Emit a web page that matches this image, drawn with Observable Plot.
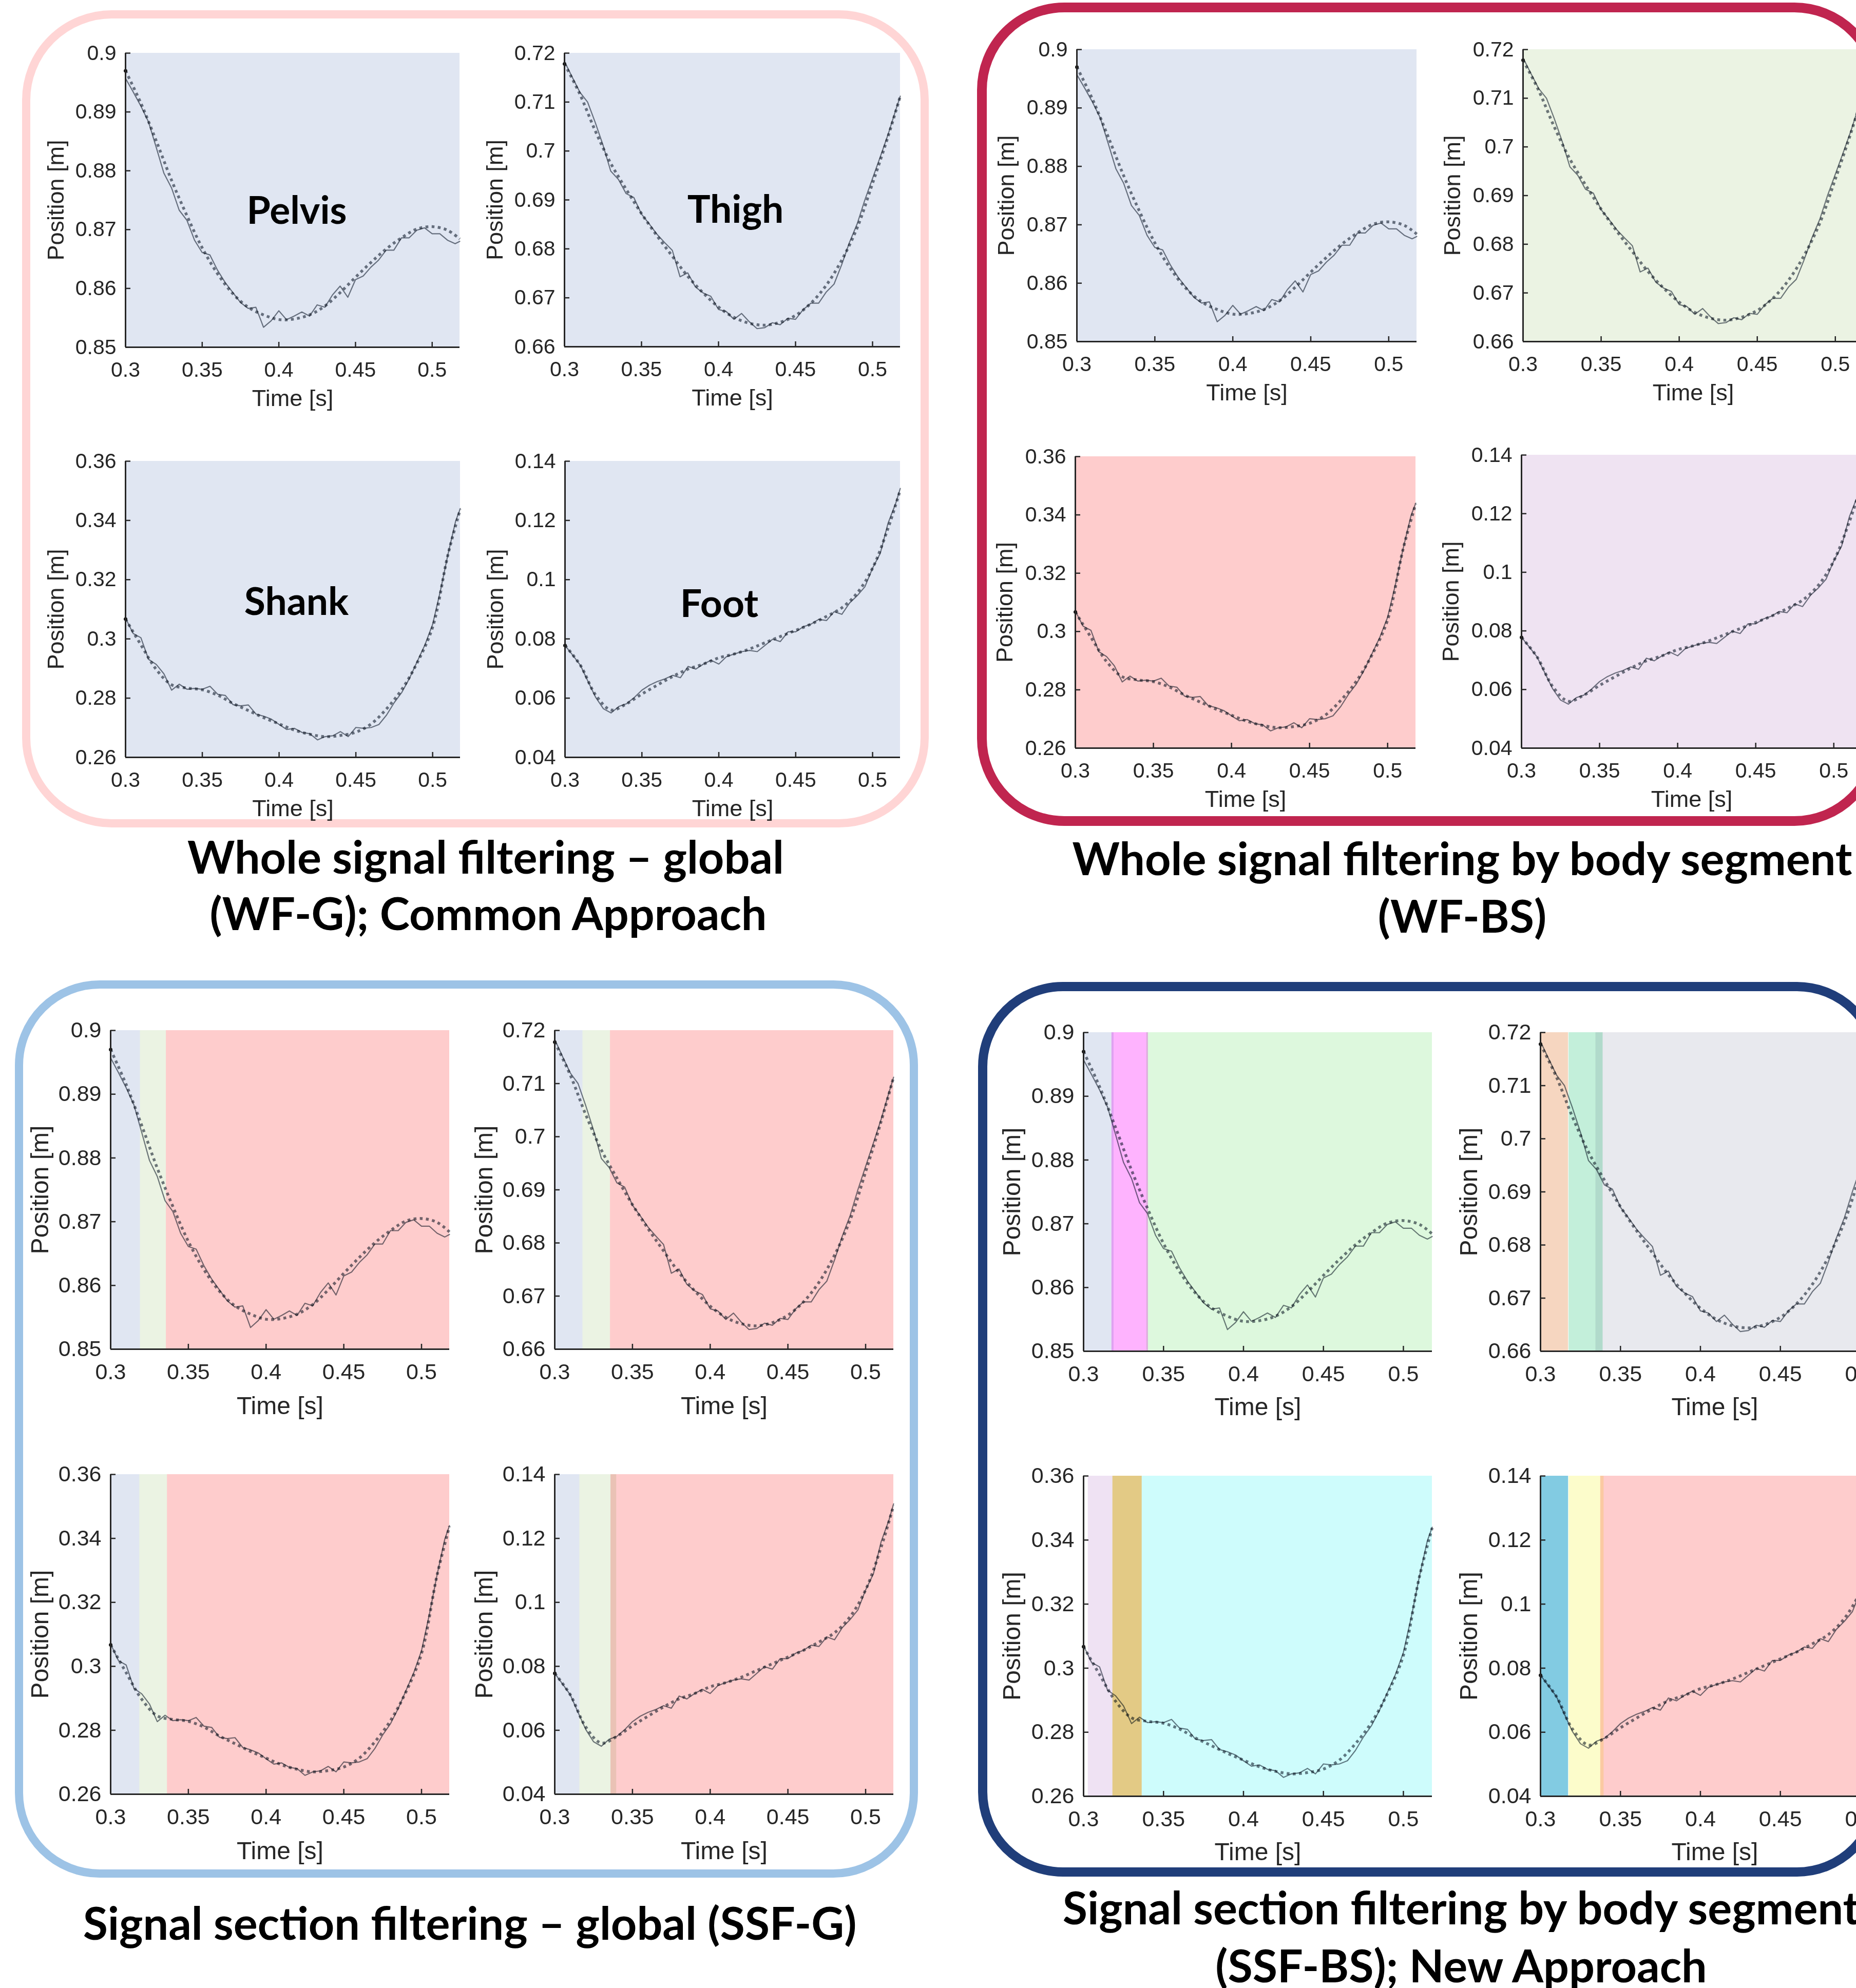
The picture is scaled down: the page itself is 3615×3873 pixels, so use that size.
<!DOCTYPE html>
<html><head><meta charset="utf-8">
<script src="https://cdn.jsdelivr.net/npm/d3@7"></script>
<script src="https://cdn.jsdelivr.net/npm/@observablehq/plot@0.6"></script>
<style>
html,body{margin:0;padding:0;background:#fff;}
body{width:3615px;height:3873px;position:relative;overflow:hidden;}
.box{position:absolute;box-sizing:border-box;border-style:solid;}
.sub{position:absolute;}
</style></head><body>
<script>
// ---------------- DATA ----------------
const time = [0.300,0.305,0.310,0.315,0.320,0.325,0.330,0.335,0.340,0.345,0.350,0.355,0.360,0.365,0.370,0.375,0.380,0.385,0.390,0.395,0.400,0.405,0.410,0.415,0.420,0.425,0.430,0.435,0.440,0.445,0.450,0.455,0.460,0.465,0.470,0.475,0.480,0.485,0.490,0.495,0.500,0.505,0.510,0.515,0.518];
const timeF = [0.30,0.31,0.32,0.33,0.34,0.35,0.36,0.37,0.38,0.39,0.40,0.41,0.42,0.43,0.44,0.45,0.46,0.47,0.48,0.49,0.50,0.51,0.518];

const pelvisRaw = [.8957,.8934,.8910,.8883,.8840,.8796,.8771,.8733,.8716,.8682,.8661,.8657,.8631,.8610,.8593,.8576,.8566,.8568,.8534,.8545,.8562,.8547,.8553,.8560,.8553,.8572,.8568,.8589,.8604,.8585,.8615,.8621,.8636,.8648,.8665,.8665,.8686,.8686,.8699,.8703,.8693,.8693,.8682,.8676,.8680];
const pelvisFilt = [.8970,.8915,.8851,.8784,.8724,.8669,.8625,.8591,.8568,.8555,.8547,.8548,.8555,.8570,.8593,.8619,.8644,.8667,.8686,.8701,.8705,.8699,.8684];
const thighRaw = [.7183,.7151,.7120,.7100,.7058,.7012,.6959,.6942,.6913,.6905,.6871,.6851,.6830,.6813,.6797,.6743,.6751,.6722,.6710,.6703,.6676,.6672,.6656,.6668,.6651,.6637,.6639,.6649,.6645,.6658,.6656,.6676,.6689,.6689,.6712,.6728,.6768,.6813,.6851,.6900,.6944,.6988,.7033,.7083,.7112];
const thighFilt = [.7178,.7116,.7041,.6975,.6922,.6872,.6827,.6785,.6744,.6710,.6681,.6660,.6648,.6644,.6650,.6664,.6689,.6726,.6777,.6843,.6934,.7029,.7112];
const shankRaw = [.3070,.3018,.3004,.2931,.2914,.2882,.2827,.2847,.2830,.2833,.2830,.2840,.2813,.2809,.2778,.2774,.2777,.2746,.2739,.2729,.2711,.2694,.2698,.2684,.2680,.2659,.2670,.2673,.2687,.2670,.2701,.2698,.2701,.2711,.2743,.2785,.2820,.2868,.2924,.2980,.3049,.3161,.3286,.3398,.3440];
const shankFilt = [.3067,.2980,.2897,.2845,.2834,.2828,.2810,.2782,.2758,.2734,.2713,.2692,.2678,.2670,.2674,.2685,.2713,.2764,.2830,.2920,.3040,.3285,.3438];
const footRaw = [.0778,.0745,.0711,.0656,.0602,.0564,.0550,.0572,.0581,.0602,.0627,.0644,.0656,.0665,.0677,.0669,.0707,.0698,.0715,.0728,.0715,.0740,.0749,.0757,.0761,.0757,.0778,.0799,.0791,.0824,.0824,.0841,.0850,.0866,.0862,.0892,.0883,.0921,.0946,.0976,.1039,.1089,.1190,.1257,.1308];
const footFilt = [.0778,.0711,.0610,.0560,.0581,.0614,.0644,.0673,.0698,.0715,.0736,.0749,.0766,.0787,.0808,.0829,.0850,.0876,.0905,.0955,.1039,.1173,.1303];

const segmentNames = ["Pelvis","Thigh","Shank","Foot"];
const xTicks = [0.3,0.35,0.4,0.45,0.5];
const xDomain = [0.3,0.518];
const pelvisTicks = [0.85,0.86,0.87,0.88,0.89,0.9];
const thighTicks = [0.66,0.67,0.68,0.69,0.7,0.71,0.72];
const shankTicks = [0.26,0.28,0.3,0.32,0.34,0.36];
const footTicks = [0.04,0.06,0.08,0.1,0.12,0.14];
const xLabel = "Time [s]";
const yLabel = "Position [m]";

const titleWFG = ["Whole signal filtering \u2013 global","(WF-G); Common Approach"];
const titleWFBS = ["Whole signal filtering by body segment","(WF-BS)"];
const titleSSFG = ["Signal section filtering \u2013 global (SSF-G)"];
const titleSSFBS = ["Signal section filtering by body segment","(SSF-BS); New Approach"];

// filtering sections (time ranges, s)
const wholeSignal = [[0.300,0.518]];
const ssfgPelvis = [[0.300,0.319],[0.319,0.3357],[0.3357,0.518]];
const ssfgThigh  = [[0.300,0.318],[0.318,0.3357],[0.3357,0.518]];
const ssfgShank  = [[0.300,0.3186],[0.3186,0.3364],[0.3364,0.518]];
const ssfgFoot   = [[0.300,0.316],[0.316,0.3397],[0.336,0.518]];
const ssfbsPelvis = [[0.300,0.3189],[0.3176,0.3404],[0.3394,0.518]];
const ssfbsThigh  = [[0.300,0.3174],[0.3177,0.339],[0.3345,0.518]];
const ssfbsShank  = [[0.3028,0.3182],[0.3182,0.3365],[0.3365,0.518]];
const ssfbsFoot   = [[0.300,0.3174],[0.3177,0.3396],[0.3375,0.518]];

// ---------------- STYLES ----------------
const wfgColors = [["#e0e6f2"],["#e0e6f2"],["#e0e6f2"],["#e0e6f2"]];
const wfbsColors = [["#e0e6f2"],["#ebf3e3"],["#fecccc"],["#efe3f2"]];
const ssfgColors = ["#e0e6f2","#ebf3e3","#fecccc"];
const ssfbsColors = [["#e0e6f2","#feb3fe","#ddf8dd"],["#f6d6c0","#c3efda","#e8e9ee"],["#efe2f3","#e3ca85","#cefcfc"],["#82cbe2","#fcfccb","#fecccc"]];
const LINE = "#737a84";
const AX = "#262626";

const segs = [
  {raw: pelvisRaw, filt: pelvisFilt, ticks: pelvisTicks},
  {raw: thighRaw, filt: thighFilt, ticks: thighTicks},
  {raw: shankRaw, filt: shankFilt, ticks: shankTicks},
  {raw: footRaw, filt: footFilt, ticks: footTicks}
];

// layout: frames [left, right, top, bottom] in page px
const quadrants = [
  {frames: [[244,895,103,676],[1099,1753,103,675],[244,896,898,1475],[1100,1753,898,1475]],
   sections: [wholeSignal,wholeSignal,wholeSignal,wholeSignal], colors: wfgColors,
   tickFont: 41, labelFont: 45, xLabelDy: 100, yLabelDx: -135, names: true},
  {frames: [[2097,2759,96,665],[2966,3629,96,665],[2094,2757,889,1457],[2963,3626,886,1457]],
   sections: [wholeSignal,wholeSignal,wholeSignal,wholeSignal], colors: wfbsColors,
   tickFont: 41, labelFont: 45, xLabelDy: 100, yLabelDx: -137, names: false},
  {frames: [[215,875,2007,2628],[1080,1740,2007,2628],[215,875,2872,3495],[1080,1740,2872,3495]],
   sections: [ssfgPelvis,ssfgThigh,ssfgShank,ssfgFoot], colors: [ssfgColors,ssfgColors,ssfgColors,ssfgColors],
   tickFont: 43, labelFont: 48, xLabelDy: 111, yLabelDx: -137, names: false},
  {frames: [[2110,2789,2011,2632],[3000,3679,2011,2632],[2110,2789,2875,3499],[3000,3679,2875,3499]],
   sections: [ssfbsPelvis,ssfbsThigh,ssfbsShank,ssfbsFoot], colors: ssfbsColors,
   tickFont: 43, labelFont: 48, xLabelDy: 109, yLabelDx: -139, names: false}
];
const nameOffsets = [[8,22],[6,20],[7,-13],[-26,-9]];

// rounded boxes
const boxes = [
  {l:43, t:20, r:1809, b:1612, w:16, c:"#ffd5d5", rad:175},
  {l:1903, t:5, r:3665, b:1609, w:19, c:"#c0254f", rad:170},
  {l:29, t:1910, r:1788, b:3658, w:16, c:"#9dc3e6", rad:165},
  {l:1905, t:1913, r:3665, b:3656, w:18, c:"#203e7a", rad:165}
];
for (const bx of boxes) {
  const d = document.createElement("div");
  d.className = "box";
  Object.assign(d.style, {left: bx.l+"px", top: bx.t+"px", width: (bx.r-bx.l)+"px", height: (bx.b-bx.t)+"px",
    borderWidth: bx.w+"px", borderColor: bx.c, borderRadius: bx.rad+"px"});
  document.body.appendChild(d);
}

function drawSub(q, si) {
  const [L, R, T, B] = q.frames[si];
  const seg = segs[si];
  const mL = 230, mR = 40, mT = 40, mB = 180;
  const W = R - L, H = B - T;
  const yDom = [seg.ticks[0], seg.ticks[seg.ticks.length-1]];
  const bandData = q.sections[si].map((s, i) => ({x1: s[0], x2: s[1], fill: q.colors[si][i]}));
  const tlx = (xDomain[1]-xDomain[0]) * 10 / W;
  const tly = (yDom[1]-yDom[0]) * 10 / H;
  const raw = time.map((t, i) => ({t, v: seg.raw[i]}));
  const filt = timeF.map((t, i) => ({t, v: seg.filt[i]}));
  const marks = [
    Plot.rect(bandData, {x1: "x1", x2: "x2", y1: yDom[0], y2: yDom[1], fill: "fill", mixBlendMode: "multiply"}),
    Plot.line(raw, {x: "t", y: "v", stroke: LINE, strokeWidth: 2.2, mixBlendMode: "multiply"}),
    Plot.line(filt, {x: "t", y: "v", stroke: LINE, strokeWidth: 5.5, strokeDasharray: "5.5,6.5", strokeLinecap: "butt", curve: "catmull-rom", mixBlendMode: "multiply"}),
    Plot.dot(filt.slice(0, 1), {x: "t", y: "v", r: 3.5, fill: "#111", stroke: null}),
    Plot.ruleY([yDom[0]], {stroke: AX, strokeWidth: 3}),
    Plot.ruleX([xDomain[0]], {stroke: AX, strokeWidth: 3}),
    Plot.ruleX(xTicks, {x: d => d, y1: yDom[0], y2: yDom[0] + tly, stroke: AX, strokeWidth: 2.5}),
    Plot.ruleY(seg.ticks, {y: d => d, x1: xDomain[0], x2: xDomain[0] + tlx, stroke: AX, strokeWidth: 2.5}),
    Plot.text([xLabel], {text: d => d, frameAnchor: "bottom", dy: q.xLabelDy, fontSize: q.labelFont, textAnchor: "middle", lineAnchor: "middle", fill: AX}),
    Plot.text([yLabel], {text: d => d, frameAnchor: "left", dx: q.yLabelDx, rotate: -90, fontSize: q.labelFont, textAnchor: "middle", lineAnchor: "middle", fill: AX})
  ];
  if (q.names) {
    marks.push(Plot.text([segmentNames[si]], {text: d => d, frameAnchor: "middle", dx: nameOffsets[si][0], dy: nameOffsets[si][1],
      fontSize: 75, fontWeight: 700, fontFamily: "Lato, sans-serif", fill: "#000", textAnchor: "middle", lineAnchor: "middle"}));
  }
  const svg = Plot.plot({
    width: W + mL + mR, height: H + mT + mB,
    marginLeft: mL, marginRight: mR, marginTop: mT, marginBottom: mB,
    x: {domain: xDomain, ticks: xTicks, tickSize: 0, tickPadding: 28, tickFormat: d => String(d), label: null},
    y: {domain: yDom, ticks: seg.ticks, tickSize: 0, tickPadding: 18, tickFormat: d => String(d), label: null},
    color: {type: "identity"},
    style: {fontFamily: "'Liberation Sans', Arial, sans-serif", fontSize: q.tickFont + "px", color: AX,
            background: "transparent", overflow: "visible", maxWidth: "none"},
    marks
  });
  const div = document.createElement("div");
  div.className = "sub";
  div.style.left = (L - mL) + "px";
  div.style.top = (T - mT) + "px";
  div.appendChild(svg);
  document.body.appendChild(div);
}
for (const q of quadrants) for (let si = 0; si < 4; si++) drawSub(q, si);

// titles
const titles = [
  {lines: titleWFG, x: [946, 951], y: [1702, 1812]},
  {lines: titleWFBS, x: [2848, 2848], y: [1705, 1817]},
  {lines: titleSSFG, x: [915], y: [3779]},
  {lines: titleSSFBS, x: [2846, 2846], y: [3749, 3862]}
];
const ns = "http://www.w3.org/2000/svg";
const ov = document.createElementNS(ns, "svg");
ov.setAttribute("width", 3615); ov.setAttribute("height", 3873);
ov.style.position = "absolute"; ov.style.left = "0px"; ov.style.top = "0px";
for (const t of titles) {
  t.lines.forEach((line, i) => {
    const tx = document.createElementNS(ns, "text");
    tx.setAttribute("x", t.x[i]); tx.setAttribute("y", t.y[i]);
    tx.setAttribute("text-anchor", "middle");
    tx.setAttribute("font-family", "Lato, sans-serif");
    tx.setAttribute("font-weight", "700");
    tx.setAttribute("font-size", "88");
    tx.setAttribute("fill", "#000");
    tx.textContent = line;
    ov.appendChild(tx);
  });
}
document.body.appendChild(ov);
</script>
</body></html>
